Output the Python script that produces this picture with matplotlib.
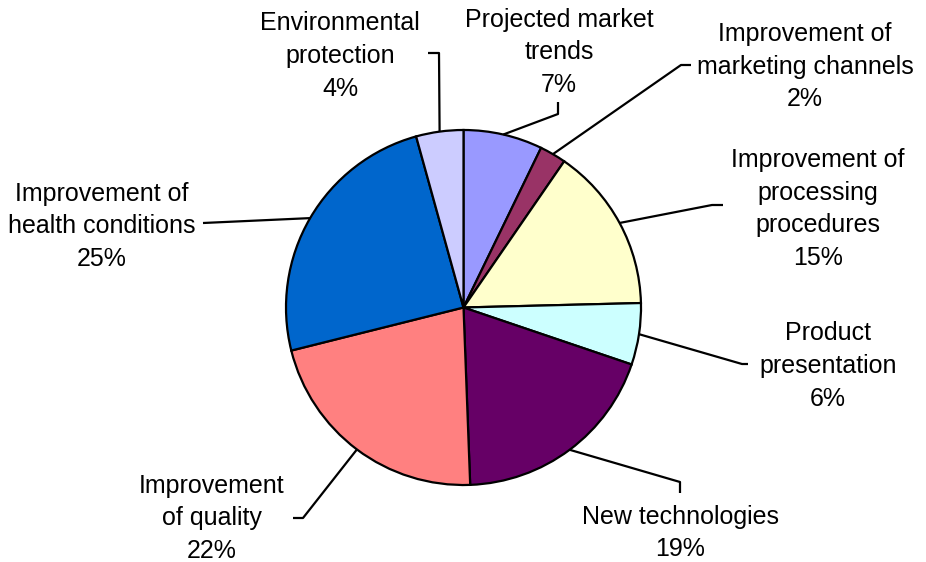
import matplotlib
matplotlib.use("Agg")
import matplotlib.pyplot as plt
import numpy as np

plt.rcParams['font.family'] = ['Liberation Sans', 'DejaVu Sans']

# slices, clockwise from 12 o'clock
categories = ['Projected market\ntrends',
              'Improvement of\nmarketing channels',
              'Improvement of\nprocessing\nprocedures',
              'Product\npresentation',
              'New technologies',
              'Improvement\nof quality',
              'Improvement of\nhealth conditions',
              'Environmental\nprotection']
shares = [7.2, 2.4, 15.0, 5.6, 19.2, 21.7, 24.6, 4.3]
colors = ['#9999FF', '#993366', '#FFFFCC', '#CCFFFF',
          '#660066', '#FF8080', '#0066CC', '#CCCCFF']

W, H = 926, 562
fig = plt.figure(figsize=(W / 100, H / 100), dpi=100)
ax = fig.add_axes([0, 0, 1, 1])

cx, cy, r = 463.5, H - 307.5, 177.5
wedges, _ = ax.pie(shares, colors=colors, startangle=90, counterclock=False,
                   center=(cx, cy), radius=r,
                   wedgeprops=dict(edgecolor='black', linewidth=1.6))
ax.set_xlim(0, W)
ax.set_ylim(0, H)
ax.axis('off')

# leader line elbow, end and label block centre (pixels from top-left)
elbows = [(558, 114), (681, 65), (712, 205), (742, 364),
          (680, 482), (303, 518), (203, 223), (439, 53)]
ends = [(558, 102), (691, 65), (723, 205), (748, 364),
        (680, 493), (293, 518), (203, 223), (428, 53)]
text_pos = [(559, 50), (805, 65), (818, 207), (828, 364),
            (680, 531), (212, 516), (102, 224), (340, 54)]

line_gap = 32.5
for w, name, s, el, en, tp in zip(wedges, categories, shares, elbows, ends, text_pos):
    ang = np.deg2rad((w.theta1 + w.theta2) / 2)
    sx, sy = cx + r * np.cos(ang), cy + r * np.sin(ang)
    ax.plot([sx, el[0], en[0]], [sy, H - el[1], H - en[1]],
            color='black', lw=1.6, solid_capstyle='butt', zorder=3)
    lines = name.split('\n') + ['{:.0f}%'.format(s)]
    n = len(lines)
    for i, txt in enumerate(lines):
        yb = tp[1] + 9 + (i - (n - 1) / 2) * line_gap
        ax.text(tp[0], H - yb, txt, ha='center', va='baseline', fontsize=18)

plt.savefig('out.png', dpi=100)
